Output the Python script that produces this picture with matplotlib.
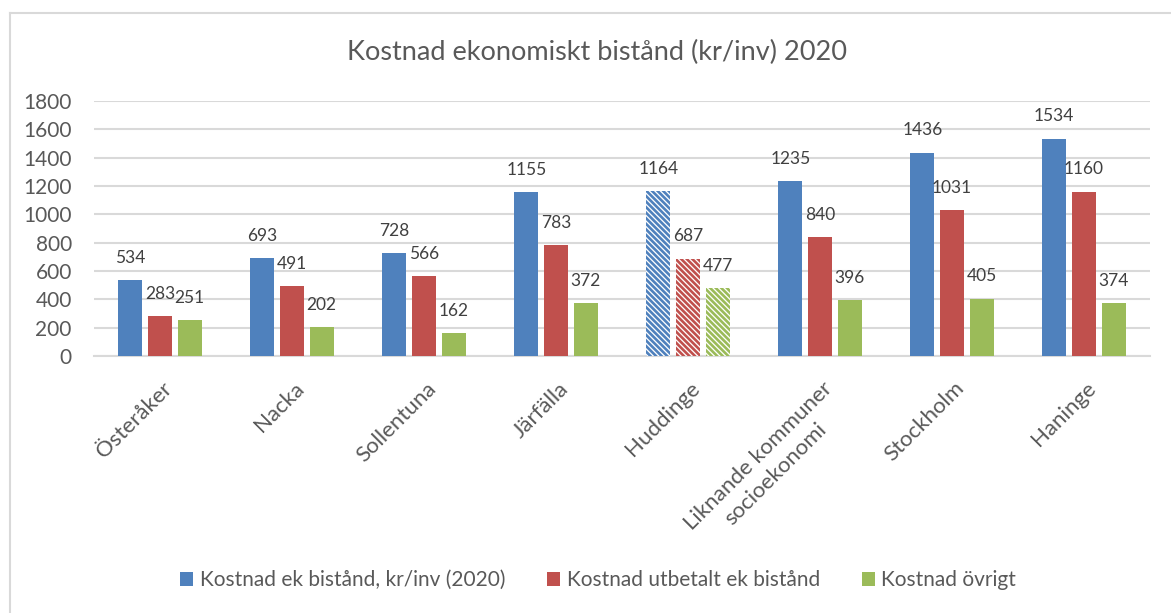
import numpy as np
import matplotlib
matplotlib.use("Agg")
import matplotlib.pyplot as plt
from matplotlib.lines import Line2D
from matplotlib.patches import Patch
import matplotlib.transforms as mtransforms

categories = ["Österåker", "Nacka", "Sollentuna", "Järfälla", "Huddinge",
              "Liknande kommuner\nsocioekonomi", "Stockholm", "Haninge"]
kostnad_total = [534, 693, 728, 1155, 1164, 1235, 1436, 1534]
kostnad_utbetalt = [283, 491, 566, 783, 687, 840, 1031, 1160]
kostnad_ovrigt = [251, 202, 162, 372, 477, 396, 405, 374]
series_names = ["Kostnad ek bistånd, kr/inv (2020)",
                "Kostnad utbetalt ek bistånd",
                "Kostnad övrigt"]
colors = ["#4F81BD", "#C0504D", "#9BBB59"]
hatched = "Huddinge"
yticks = [0, 200, 400, 600, 800, 1000, 1200, 1400, 1600, 1800]

plt.rcParams['font.family'] = ['Lato', 'DejaVu Sans']
plt.rcParams['hatch.linewidth'] = 1.9
txt = "#595959"
grid = "#D9D9D9"

fig = plt.figure(figsize=(11.71, 6.13), dpi=100)
ax = fig.add_axes([94/1171, 1 - 356/613, 1056/1171, 255/613])

# chart border (only top and left visible in the crop)
fig.add_artist(Line2D([10/1171, 10/1171], [0, 1 - 13/613], transform=fig.transFigure,
                      color=grid, lw=1.5))
fig.add_artist(Line2D([10/1171, 1], [1 - 13/613, 1 - 13/613], transform=fig.transFigure,
                      color=grid, lw=1.5))

x = np.arange(len(categories))
width = 0.18
step = 0.225
for i, (vals, col) in enumerate(zip([kostnad_total, kostnad_utbetalt, kostnad_ovrigt], colors)):
    pos = x + (i - 1) * step
    bars = ax.bar(pos, vals, width, color=col, zorder=3)
    for b, cat in zip(bars, categories):
        if cat == hatched:
            b.set_facecolor("white")
            b.set_edgecolor(col)
            b.set_linewidth(0)
            b.set_hatch("\\" * 6)
    for p, v in zip(pos, vals):
        ax.annotate(str(v), (p, v), xytext=(0, 16), textcoords="offset points",
                    ha="center", va="center", fontsize=12.5, color="#404040")

ax.set_xlim(-0.5, len(categories) - 0.5)
ax.set_ylim(0, 1800)
ax.set_yticks(yticks)
ax.yaxis.grid(True, color=grid, lw=1.5, zorder=0)
ax.set_axisbelow(True)
for s in ["top", "right", "left"]:
    ax.spines[s].set_visible(False)
ax.spines["bottom"].set_color(grid)
ax.spines["bottom"].set_linewidth(1.5)
ax.tick_params(axis="y", length=0, pad=16, labelsize=15, labelcolor=txt)
ax.tick_params(axis="x", length=0, pad=16, labelsize=16, labelcolor=txt)

ax.set_xticks(x)
ax.set_xticklabels(categories, rotation=45, ha="right", va="top",
                   rotation_mode="anchor", multialignment="center", linespacing=1.3)
offset = mtransforms.ScaledTranslation(2/100, 0, fig.dpi_scale_trans)
for lab in ax.get_xticklabels():
    lab.set_transform(lab.get_transform() + offset)

fig.text(597/1171, 1 - 52/613, "Kostnad ekonomiskt bistånd (kr/inv) 2020",
         ha="center", va="center", fontsize=19.5, color=txt)

handles = [Patch(facecolor=c, edgecolor="none") for c in colors]
fig.legend(handles, series_names, loc="center", bbox_to_anchor=(598/1171, 1 - 580/613),
           ncol=3, frameon=False, fontsize=15, labelcolor=txt,
           handlelength=0.65, handleheight=0.65, handletextpad=0.3, columnspacing=2.0)

fig.savefig("out.png", dpi=100)
